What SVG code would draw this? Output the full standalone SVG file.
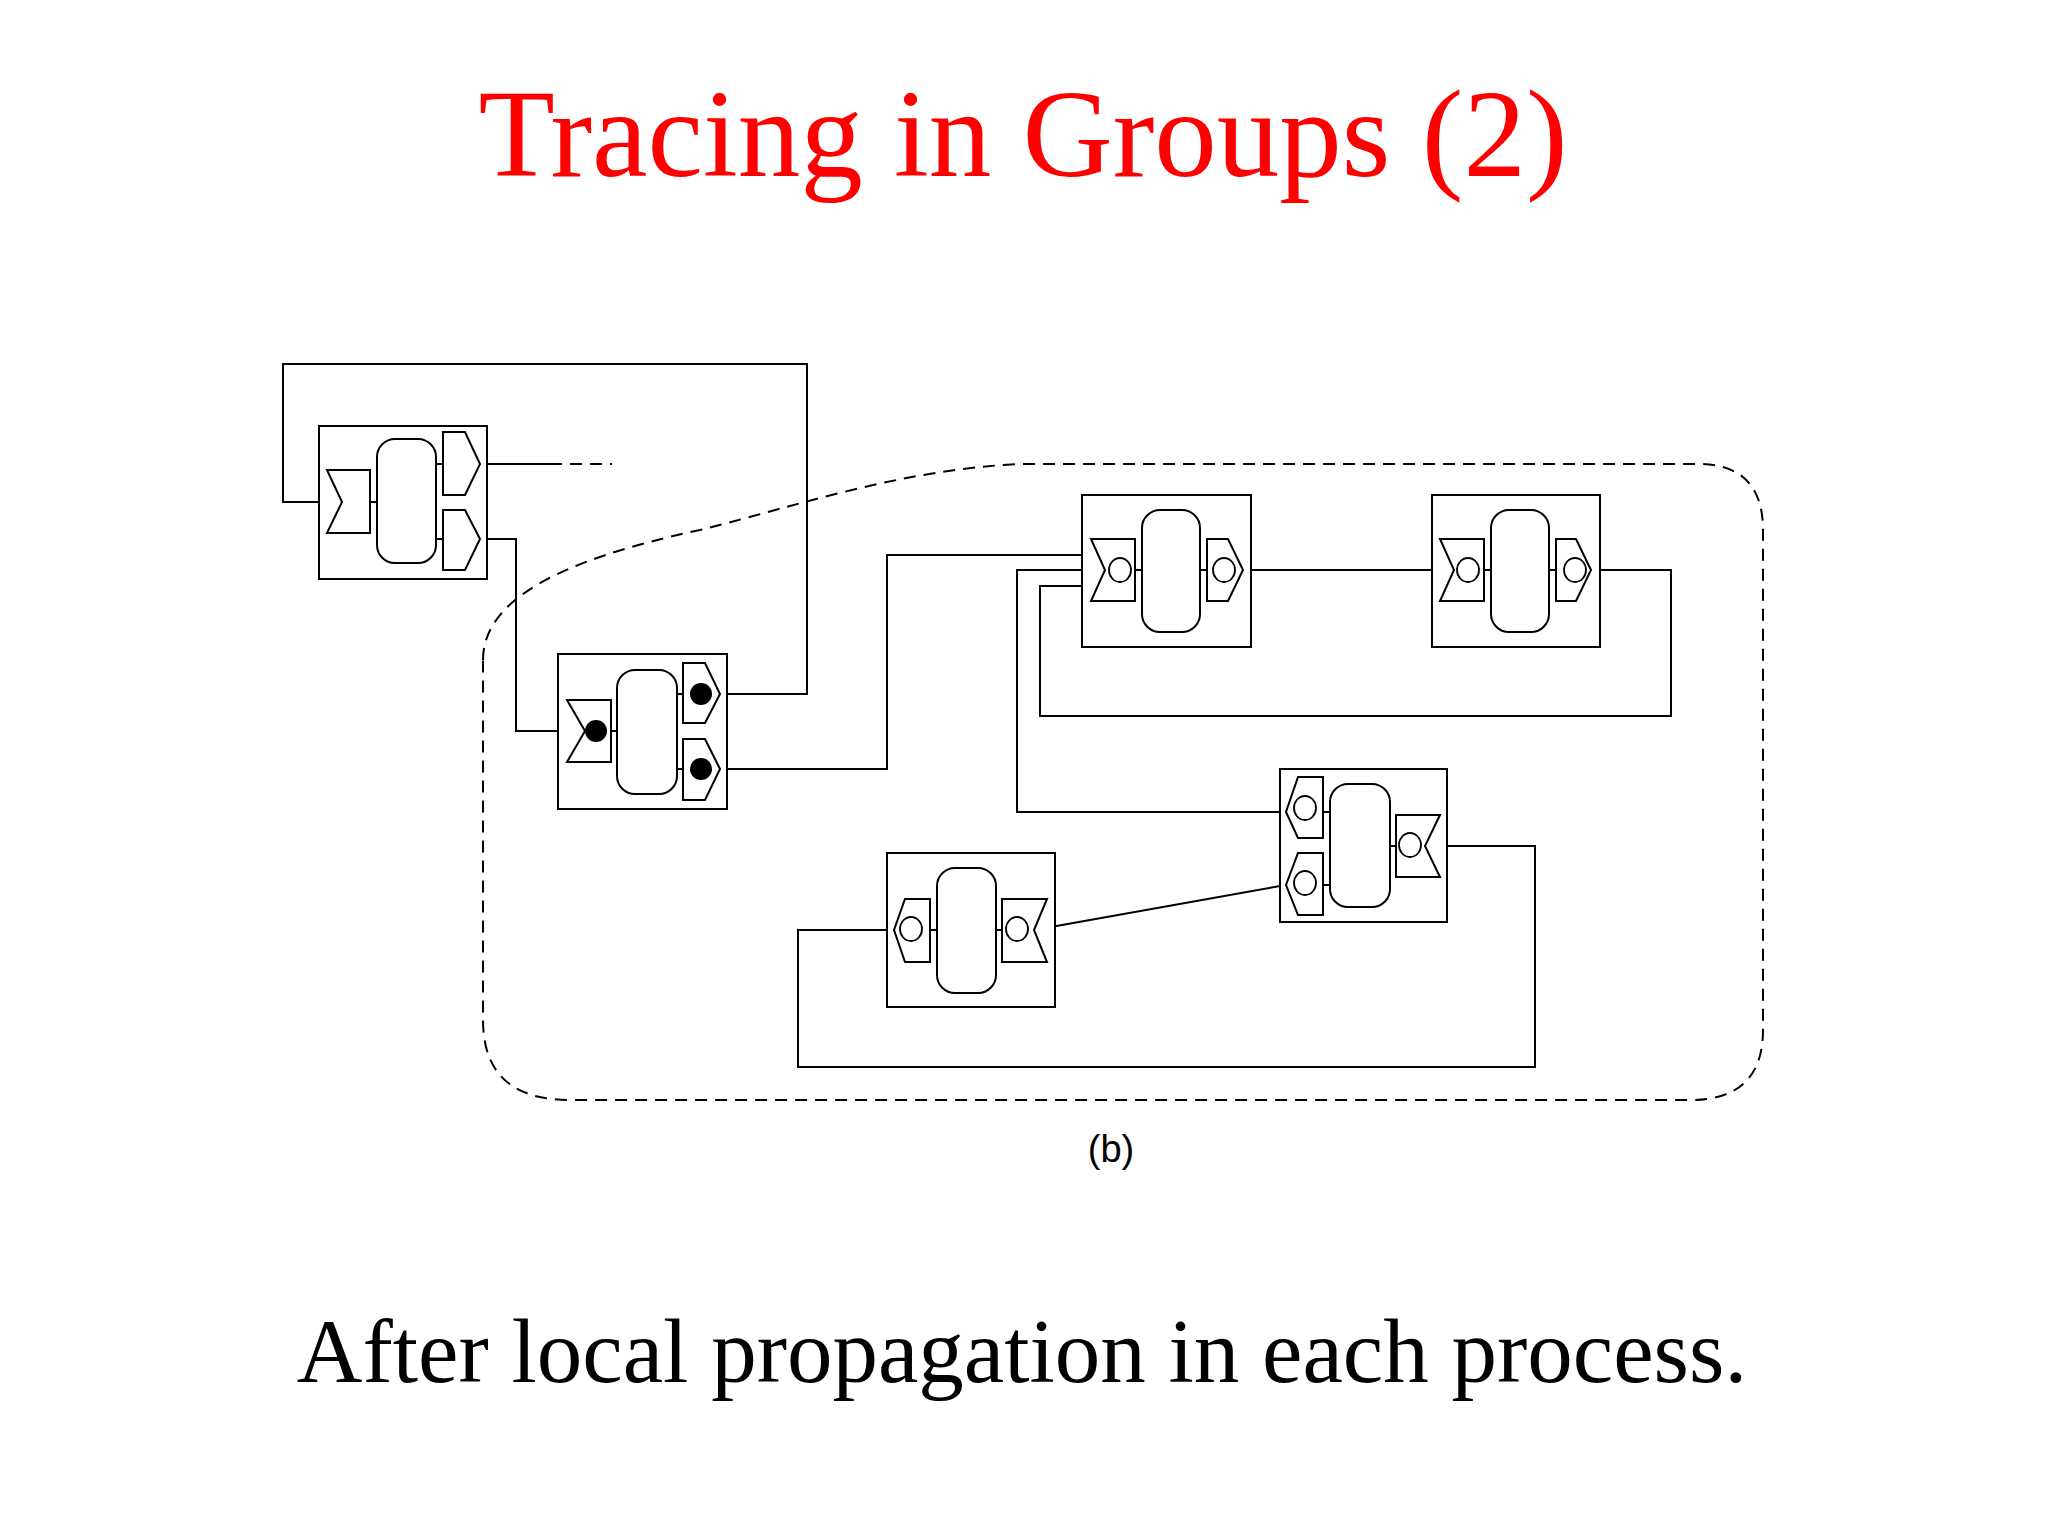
<svg xmlns="http://www.w3.org/2000/svg" width="2048" height="1536" viewBox="0 0 2048 1536">
<style>
.l{fill:none;stroke:#000;stroke-width:2}
.p{fill:#fff;stroke:#000;stroke-width:2}
.d{fill:none;stroke:#000;stroke-width:2;stroke-dasharray:12 8}
.c{fill:none;stroke:#000;stroke-width:1.8}
.k{fill:#000}
</style>
<rect width="2048" height="1536" fill="#fff"/>
<text x="1023" y="176" font-family="Liberation Serif, serif" font-size="125" fill="#f00" text-anchor="middle">Tracing in Groups (2)</text>
<path class="d" d="M483 660 C483 600 560 560 700 530 C800 505 900 470 1019 464 L1698 464 Q1763 464 1763 530 L1763 1030 Q1763 1100 1690 1100 L570 1100 Q483 1100 483 1020 Z"/>
<g id="connectors">
<path class="l" d="M327 502 H283 V364 H807 V694 H720"/>
<path class="l" d="M480 464 H550"/>
<path class="d" d="M550 464 H612"/>
<path class="l" d="M480 539 H516 V731 H585"/>
<path class="l" d="M720 769 H887 V555 H1098"/>
<path class="l" d="M1105 570 H1017 V812 H1286"/>
<path class="l" d="M1098 586 H1040 V716 H1671 V570 H1591"/>
<path class="l" d="M1243 570 H1454"/>
<path class="l" d="M1425 846 H1535 V1067 H798 V930 H894"/>
<path class="l" d="M1286 885 L1034 930"/>
</g>
<g id="nodeA">
<rect class="p" x="319" y="426" width="168" height="153"/>
<path class="p" d="M327 470 H370 V533 H327 L342 502 Z"/>
<path class="l" d="M370 502 H377 M436 464 H443 M436 539 H443"/>
<rect class="p" x="377" y="439" width="59" height="124" rx="18"/>
<path class="p" d="M443 432 H465 L480 464 L465 495 H443 Z"/>
<path class="p" d="M443 510 H465 L480 539 L465 570 H443 Z"/>
</g>
<g id="nodeB">
<rect class="p" x="558" y="654" width="169" height="155"/>
<path class="p" d="M567 700 H611 V762 H567 L585 731 Z"/>
<path class="l" d="M611 731 H617 M677 694 H683 M677 769 H683"/>
<rect class="p" x="617" y="670" width="60" height="124" rx="18"/>
<path class="p" d="M683 663 H705 L720 694 L705 723 H683 Z"/>
<path class="p" d="M683 739 H705 L720 769 L705 800 H683 Z"/>
<circle class="k" cx="596" cy="731" r="11"/>
<circle class="k" cx="701" cy="694" r="11"/>
<circle class="k" cx="701" cy="769" r="11"/>
</g>
<g id="nodeC">
<rect class="p" x="1082" y="495" width="169" height="152"/>
<path class="p" d="M1091 539 H1135 V601 H1091 L1105 570 Z"/>
<path class="l" d="M1135 570 H1142 M1200 570 H1207"/>
<rect class="p" x="1142" y="510" width="58" height="122" rx="18"/>
<path class="p" d="M1207 539 H1228 L1243 570 L1228 601 H1207 Z"/>
<ellipse class="c" cx="1120" cy="570" rx="11" ry="12"/>
<ellipse class="c" cx="1224" cy="570" rx="11" ry="12"/>
</g>
<g id="nodeD">
<rect class="p" x="1432" y="495" width="168" height="152"/>
<path class="p" d="M1440 539 H1484 V601 H1440 L1454 570 Z"/>
<path class="l" d="M1484 570 H1491 M1549 570 H1556"/>
<rect class="p" x="1491" y="510" width="58" height="122" rx="18"/>
<path class="p" d="M1556 539 H1576 L1591 570 L1576 601 H1556 Z"/>
<ellipse class="c" cx="1468" cy="570" rx="11" ry="12"/>
<ellipse class="c" cx="1575" cy="570" rx="11" ry="12"/>
</g>
<g id="nodeE">
<rect class="p" x="1280" y="769" width="167" height="153"/>
<path class="p" d="M1323 777 H1298 L1286 812 L1298 838 H1323 Z"/>
<path class="p" d="M1323 853 H1298 L1286 885 L1298 915 H1323 Z"/>
<path class="l" d="M1323 812 H1330 M1323 885 H1330 M1390 846 H1396"/>
<rect class="p" x="1330" y="784" width="60" height="123" rx="18"/>
<path class="p" d="M1396 815 H1440 L1425 846 L1440 877 H1396 Z"/>
<ellipse class="c" cx="1305" cy="808" rx="11" ry="12"/>
<ellipse class="c" cx="1305" cy="883" rx="11" ry="12"/>
<ellipse class="c" cx="1410" cy="845" rx="11" ry="12"/>
</g>
<g id="nodeF">
<rect class="p" x="887" y="853" width="168" height="154"/>
<path class="p" d="M930 899 H905 L894 930 L905 962 H930 Z"/>
<path class="l" d="M930 930 H937 M996 930 H1002"/>
<rect class="p" x="937" y="868" width="59" height="125" rx="18"/>
<path class="p" d="M1002 899 H1047 L1034 930 L1047 962 H1002 Z"/>
<ellipse class="c" cx="911" cy="929" rx="11" ry="12"/>
<ellipse class="c" cx="1017" cy="929" rx="11" ry="12"/>
</g>
<text x="1111" y="1162" font-family="Liberation Sans, sans-serif" font-size="38" text-anchor="middle">(b)</text>
<text x="1022" y="1382" font-family="Liberation Serif, serif" font-size="91" text-anchor="middle">After local propagation in each process.</text>
</svg>
